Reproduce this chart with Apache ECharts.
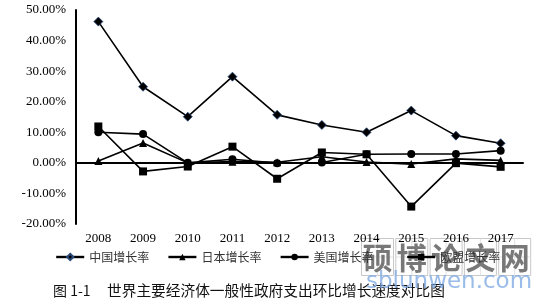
<!DOCTYPE html>
<html><head><meta charset="utf-8">
<script src="https://cdn.jsdelivr.net/npm/echarts@6/dist/echarts.min.js"></script>
<style>html,body{margin:0;padding:0;background:#fff}#c{width:548px;height:307px}</style>
</head><body><div id="c"></div>
<script>
var years = ['2008','2009','2010','2011','2012','2013','2014','2015','2016','2017'];
var china = [46.2, 24.9, 15.1, 28.2, 15.7, 12.4, 10.0, 17.1, 8.9, 6.4];
var japan = [0.6, 6.5, 0.0, 0.4, 0.2, 2.0, 0.3, -0.4, 1.3, 0.8];
var usa   = [10.0, 9.4, 0.0, 1.2, -0.1, 0.1, 2.8, 2.9, 2.9, 4.0];
var eu    = [11.9, -2.8, -1.2, 5.3, -5.2, 3.4, 2.8, -14.3, -0.1, -1.3];
var names = ['中国增长率','日本增长率','美国增长率','欧盟增长率'];
var yTicks = {min: -20, max: 50, interval: 10};
var caption = '图 1-1';
var captionText = '世界主要经济体一般性政府支出环比增长速度对比图';
var wmChars = ['硕','博','论','文','网'];
var wmUrl = 'sblunwen.com';

var chart = echarts.init(document.getElementById('c'));
function mk(name, data, sym, size) {
  return {
    name: name, type: 'line', data: data, symbol: sym, symbolSize: size,
    lineStyle: {color: '#000', width: 1.6},
    itemStyle: {color: '#000', borderColor: name === names[0] ? '#2a4a7a' : '#000', borderWidth: name === names[0] ? 0.8 : 0},
    animation: false, z: 3
  };
}
var wm = [];
wmChars.forEach(function (ch, i) {
  var x = i * 34.3;
  wm.push({type: 'rect', shape: {x: x, y: 0, width: 32, height: 37}, style: {fill: 'rgba(255,255,255,0.35)', stroke: '#c8c8c8', lineWidth: 1}});
  wm.push({type: 'line', shape: {x1: x + 16, y1: 0, x2: x + 16, y2: 37}, style: {stroke: '#e2e2e2', lineWidth: 1}});
  wm.push({type: 'line', shape: {x1: x, y1: 18.5, x2: x + 32, y2: 18.5}, style: {stroke: '#e2e2e2', lineWidth: 1}});
  wm.push({type: 'text', x: x + 16, y: 19, style: {text: ch, fill: 'rgba(105,105,105,0.9)', font: 'bold 30px "Noto Sans CJK SC"', align: 'center', verticalAlign: 'middle'}});
});
var legendCommon = {
  top: 246, itemWidth: 28, itemHeight: 8, itemGap: 18,
  lineStyle: {width: 2.4},
  textStyle: {color: '#333', fontFamily: 'Noto Sans CJK SC', fontSize: 12}
};
chart.setOption({
  backgroundColor: '#fff',
  animation: false,
  grid: {left: 76, right: 25, top: 10, bottom: 83},
  xAxis: {
    type: 'category', data: years, boundaryGap: true,
    axisLine: {onZero: true, lineStyle: {color: '#000', width: 2}},
    axisTick: {show: false},
    axisLabel: {color: '#000', fontFamily: 'Liberation Serif', fontSize: 13, margin: 8}
  },
  yAxis: {
    type: 'value', min: yTicks.min, max: yTicks.max, interval: yTicks.interval,
    splitLine: {show: false},
    axisLine: {show: true, lineStyle: {color: '#000', width: 2}},
    axisTick: {show: false},
    axisLabel: {color: '#000', fontFamily: 'Liberation Serif', fontSize: 13, margin: 10,
      formatter: function (v) { return v.toFixed(2) + '%'; }}
  },
  legend: [
    Object.assign({left: 50, data: names.slice(0, 3)}, legendCommon),
    Object.assign({left: 401, data: names.slice(3)}, legendCommon)
  ],
  series: [
    mk(names[0], china, 'diamond', 9),
    mk(names[1], japan, 'triangle', 8),
    mk(names[2], usa, 'circle', 8),
    mk(names[3], eu, 'rect', 8)
  ],
  graphic: [
    {type: 'text', left: 53, top: 284, style: {text: caption, fill: '#111', font: '14px "Noto Sans CJK SC"'}},
    {type: 'text', left: 107, top: 283, style: {text: captionText, fill: '#111', font: '14.7px "Noto Sans CJK SC"'}},
    {type: 'group', left: 359, top: 236, z: 100, children: wm},
    {type: 'text', left: 366, top: 271, z: 100, style: {text: wmUrl, fill: 'rgba(120,165,225,0.75)', font: '23px "DejaVu Sans"'}}
  ]
});
</script></body></html>
